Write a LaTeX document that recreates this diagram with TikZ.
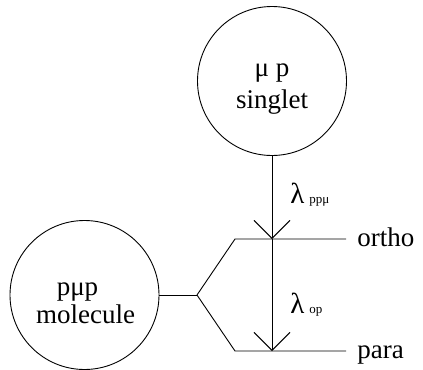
\documentclass[tikz,border=0pt]{standalone}
\usepackage{fontspec}
\setmainfont{Liberation Serif}
\usetikzlibrary{arrows.meta}
\begin{document}
\begin{tikzpicture}[x=1bp,y=-1bp,line width=0.9bp,
  state/.style={draw,circle,minimum size=149bp,inner sep=0pt},
  txt/.style={inner sep=0pt,font=\fontsize{27bp}{32bp}\selectfont},
  lam/.style={inner sep=0pt,font=\fontsize{29bp}{32bp}\selectfont},
  arr/.style={-{Straight Barb[length=18bp,width=36bp,line width=0.9bp]}}]
\useasboundingbox (0,0) rectangle (423,370);
% circles
\node[state] (up) at (272,81) {};
\node[state] (lo) at (84.5,295) {};
% circle texts
\node[txt,anchor=base] (upa) at (272,76) {μ p};
\node[txt,anchor=base] (upb) at (272,108) {singlet};
\node[txt,anchor=base] (loa) at (77.5,295) {pμp};
\node[txt,anchor=base] (lob) at (85.5,323) {molecule};
% level coordinates
\coordinate (fork) at (197,295);
\coordinate (oc) at (235,239);
\coordinate (pc) at (235,351);
\coordinate (oj) at (272,239);
\coordinate (pj) at (272,351);
\coordinate (oe) at (346,239);
\coordinate (pe) at (346,351);
% lines
\draw (lo.east) -- (fork);
\draw (fork) -- (oc) -- (oe);
\draw (fork) -- (pc) -- (pe);
\draw[arr] (up.south) -- (oj);
\draw[arr] (oj) -- (pj);
% labels
\node[txt,anchor=base west] (ortho) at (357,246) {ortho};
\node[txt,anchor=base west] (para) at (357,358) {para};
\node[lam,anchor=base west] (l1) at (290,203) {λ\,\fontsize{13bp}{14bp}\selectfont ppμ};
\node[lam,anchor=base west] (l2) at (290,313) {λ\,\fontsize{13bp}{14bp}\selectfont op};
\end{tikzpicture}
\end{document}
